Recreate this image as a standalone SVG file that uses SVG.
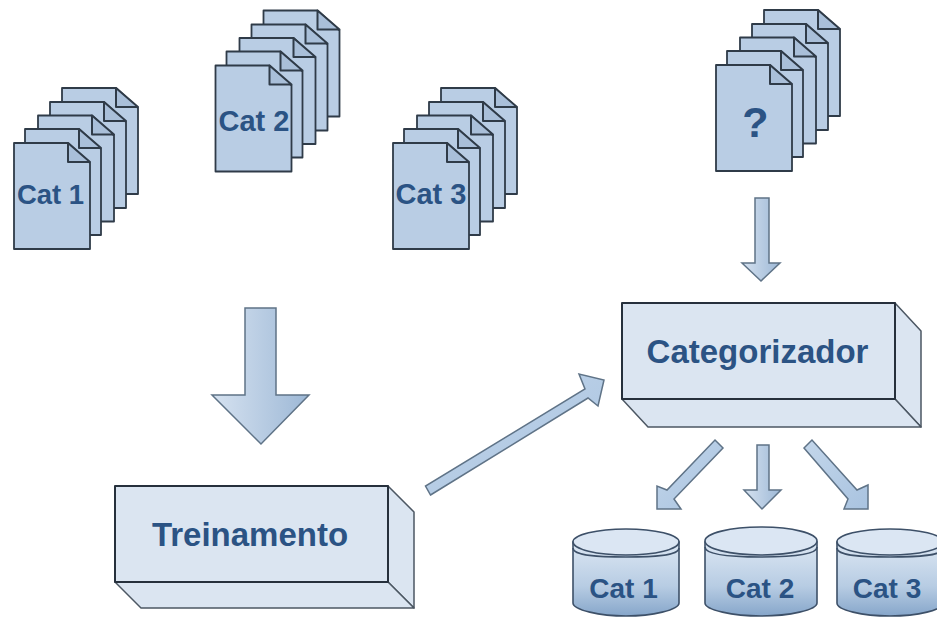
<svg xmlns="http://www.w3.org/2000/svg" xmlns:xlink="http://www.w3.org/1999/xlink" width="937" height="617" viewBox="0 0 937 617">
<style>
.lbl{font-family:"Liberation Sans",Arial,sans-serif;font-weight:700;fill:#2b5384}
.pg{fill:#b9cde4;stroke:#2f3b48;stroke-width:1.8;stroke-linejoin:round}
.fold{fill:#a9bfd9;stroke:#2f3b48;stroke-width:2;stroke-linejoin:round}
.box{fill:#dbe5f1;stroke:#26303c;stroke-width:2;stroke-linejoin:round}
.boxs{fill:#dbe5f1;stroke:#4c5763;stroke-width:1.5;stroke-linejoin:round}
.arw{stroke:#5f7387;stroke-width:1.5;stroke-linejoin:miter}
.cb{fill:url(#cyl);stroke:#3d5068;stroke-width:1.6}
.ct{fill:#dbe6f3;stroke:#3d5068;stroke-width:1.6}
</style>
<defs>
<linearGradient id="ag" x1="0" y1="0" x2="1" y2="0"><stop offset="0" stop-color="#d6e2f0"/><stop offset="1" stop-color="#9db8d6"/></linearGradient>
<linearGradient id="ah" x1="0" y1="0" x2="1" y2="1"><stop offset="0" stop-color="#c3d6ea"/><stop offset="1" stop-color="#a9c3e0"/></linearGradient>
<linearGradient id="cyl" x1="0" y1="0" x2="0" y2="1"><stop offset="0" stop-color="#dce7f3"/><stop offset="0.6" stop-color="#b7cce3"/><stop offset="1" stop-color="#86a6ca"/></linearGradient>
<g id="page">
<path class="pg" d="M0 0H54L76 20V106H0Z"/>
<path class="fold" d="M54 0V19H76Z"/>
</g>
<g id="stack">
<use href="#page" x="48" y="-55"/>
<use href="#page" x="36" y="-41"/>
<use href="#page" x="24" y="-27.500"/>
<use href="#page" x="11" y="-14"/>
<use href="#page" x="0" y="0"/>
</g>
</defs>
<rect width="937" height="617" fill="#ffffff"/>
<g id="connectors">
<path class="arw" fill="url(#ag)" d="M245 308H276V395H309L261 444L212 395H245Z"/>
<path class="arw" fill="url(#ag)" d="M755 198H769V263H780L761 281L742 263H755Z"/>
<path class="arw" fill="url(#ah)" d="M430.500 495L588 398L598 406L604 380L579 374L585 389L425.500 486Z"/>
<path class="arw" fill="url(#ag)" d="M757 445H769V490H781L762 509L744 490H757Z"/>
<path class="arw" fill="url(#ah)" d="M715 440L723 448L674 499L681 509H657V486L667 490Z"/>
<path class="arw" fill="url(#ah)" d="M812 440L804 448L848 499L844 509H868V485L857 490Z"/>
</g>
<g id="stack-cat1"><use href="#stack" x="14" y="143"/><text class="lbl" x="50.500" y="204" font-size="27.500" text-anchor="middle">Cat 1</text></g>
<g id="stack-cat2"><use href="#stack" x="215.500" y="65.500"/><text class="lbl" x="254" y="131" font-size="29" text-anchor="middle">Cat 2</text></g>
<g id="stack-cat3"><use href="#stack" x="393" y="143"/><text class="lbl" x="431" y="204" font-size="29" text-anchor="middle">Cat 3</text></g>
<g id="stack-unknown"><use href="#stack" x="716" y="65"/><text class="lbl" x="755.500" y="137" font-size="43" text-anchor="middle">?</text></g>
<g id="treinamento">
<path class="boxs" d="M388 486L414 512V608L388 582Z"/>
<path class="boxs" d="M115 582H388L414 608H141Z"/>
<rect class="box" x="115" y="486" width="273" height="96"/>
<text class="lbl" x="250" y="546" font-size="33" text-anchor="middle">Treinamento</text>
</g>
<g id="categorizador">
<path class="boxs" d="M895 303L921 331V427L895 399Z"/>
<path class="boxs" d="M622 399H895L921 427H648Z"/>
<rect class="box" x="622" y="303" width="273" height="96"/>
<text class="lbl" x="757.500" y="363" font-size="33" text-anchor="middle">Categorizador</text>
</g>
<g id="db-cat1">
<path class="cb" d="M573 542V603C573 610 600 616 626 616S679 610 679 603V542Z"/>
<ellipse class="ct" cx="626" cy="542" rx="53" ry="13"/>
<path fill="none" stroke="#3d5068" stroke-width="1.600" d="M573 548C573 556 600 557 626 557S679 556 679 548"/>
<text class="lbl" x="623.500" y="598" font-size="28" text-anchor="middle">Cat 1</text>
</g>
<g id="db-cat2">
<path class="cb" d="M705 542V603C705 610 733 616 761 616S817 610 817 603V542Z"/>
<ellipse class="ct" cx="761" cy="541" rx="56" ry="14"/>
<path fill="none" stroke="#3d5068" stroke-width="1.600" d="M705 547C705 555 733 557 761 557S817 555 817 547"/>
<text class="lbl" x="760" y="598" font-size="28" text-anchor="middle">Cat 2</text>
</g>
<g id="db-cat3">
<path class="cb" d="M837 542V603C837 610 862 616 890 616S943 610 943 603V542Z"/>
<ellipse class="ct" cx="890" cy="542" rx="53" ry="13"/>
<path fill="none" stroke="#3d5068" stroke-width="1.600" d="M837 548C837 556 862 557 890 557S943 556 943 548"/>
<text class="lbl" x="887" y="598" font-size="28" text-anchor="middle">Cat 3</text>
</g>
</svg>
